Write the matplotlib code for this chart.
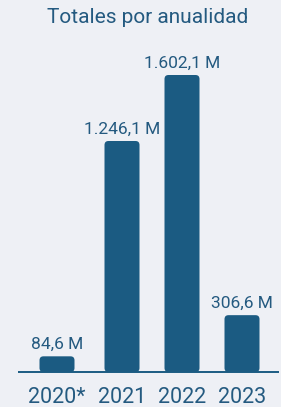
import matplotlib
matplotlib.use("Agg")
import matplotlib.pyplot as plt
from matplotlib.patches import FancyBboxPatch

# data
years = ["2020*", "2021", "2022", "2023"]
values = [84.6, 1246.1, 1602.1, 306.6]
value_labels = ["84,6 M", "1.246,1 M", "1.602,1 M", "306,6 M"]
title = "Totales por anualidad"

bg = "#eef0f5"
bar_col = "#1b5b82"
txt_col = "#245a80"

plt.rcParams['font.family'] = ['Roboto', 'DejaVu Sans']

W, H = 281, 407
fig = plt.figure(figsize=(W / 100, H / 100), dpi=100, facecolor=bg)
base_px = 35                      # baseline, px from bottom
px_per_m = 297 / 1602.1           # vertical scale
ax = fig.add_axes([0, base_px / H, 1, 1 - base_px / H])
ax.set_facecolor(bg)
ax.set_xlim(0, W)
ax.set_ylim(0, (H - base_px) / px_per_m)
ax.axis("off")

xpos = [57, 122, 182, 242]
bars = ax.bar(xpos, values, width=35, color=bar_col)
aspect = 1 / px_per_m
for b in bars:
    x0, y0 = b.get_x(), b.get_y()
    w, h = b.get_width(), b.get_height()
    b.remove()
    r = min(4, h * px_per_m / 2)
    ax.add_patch(FancyBboxPatch((x0, y0), w, h,
                                boxstyle="round,pad=0,rounding_size=%g" % r,
                                mutation_aspect=aspect, fc=bar_col, ec="none"))

ax.plot([18, 279], [0, 0], color=bar_col, lw=1.4, solid_capstyle="butt", clip_on=False)

for x, v, lab in zip(xpos, values, value_labels):
    ax.annotate(lab, (x, v), xytext=(0, 7), textcoords="offset pixels",
                ha="center", va="baseline", fontsize=12.5, color=txt_col)

for x, y in zip(xpos, years):
    ax.annotate(y, (x, 0), xytext=(0, -31), textcoords="offset pixels",
                ha="center", va="baseline", fontsize=15.5, color=txt_col,
                annotation_clip=False)

fig.text(148 / W, 1 - 23 / H, title, ha="center", va="baseline",
         fontsize=15, color=txt_col)

fig.savefig("out.png", dpi=100, facecolor=bg)
